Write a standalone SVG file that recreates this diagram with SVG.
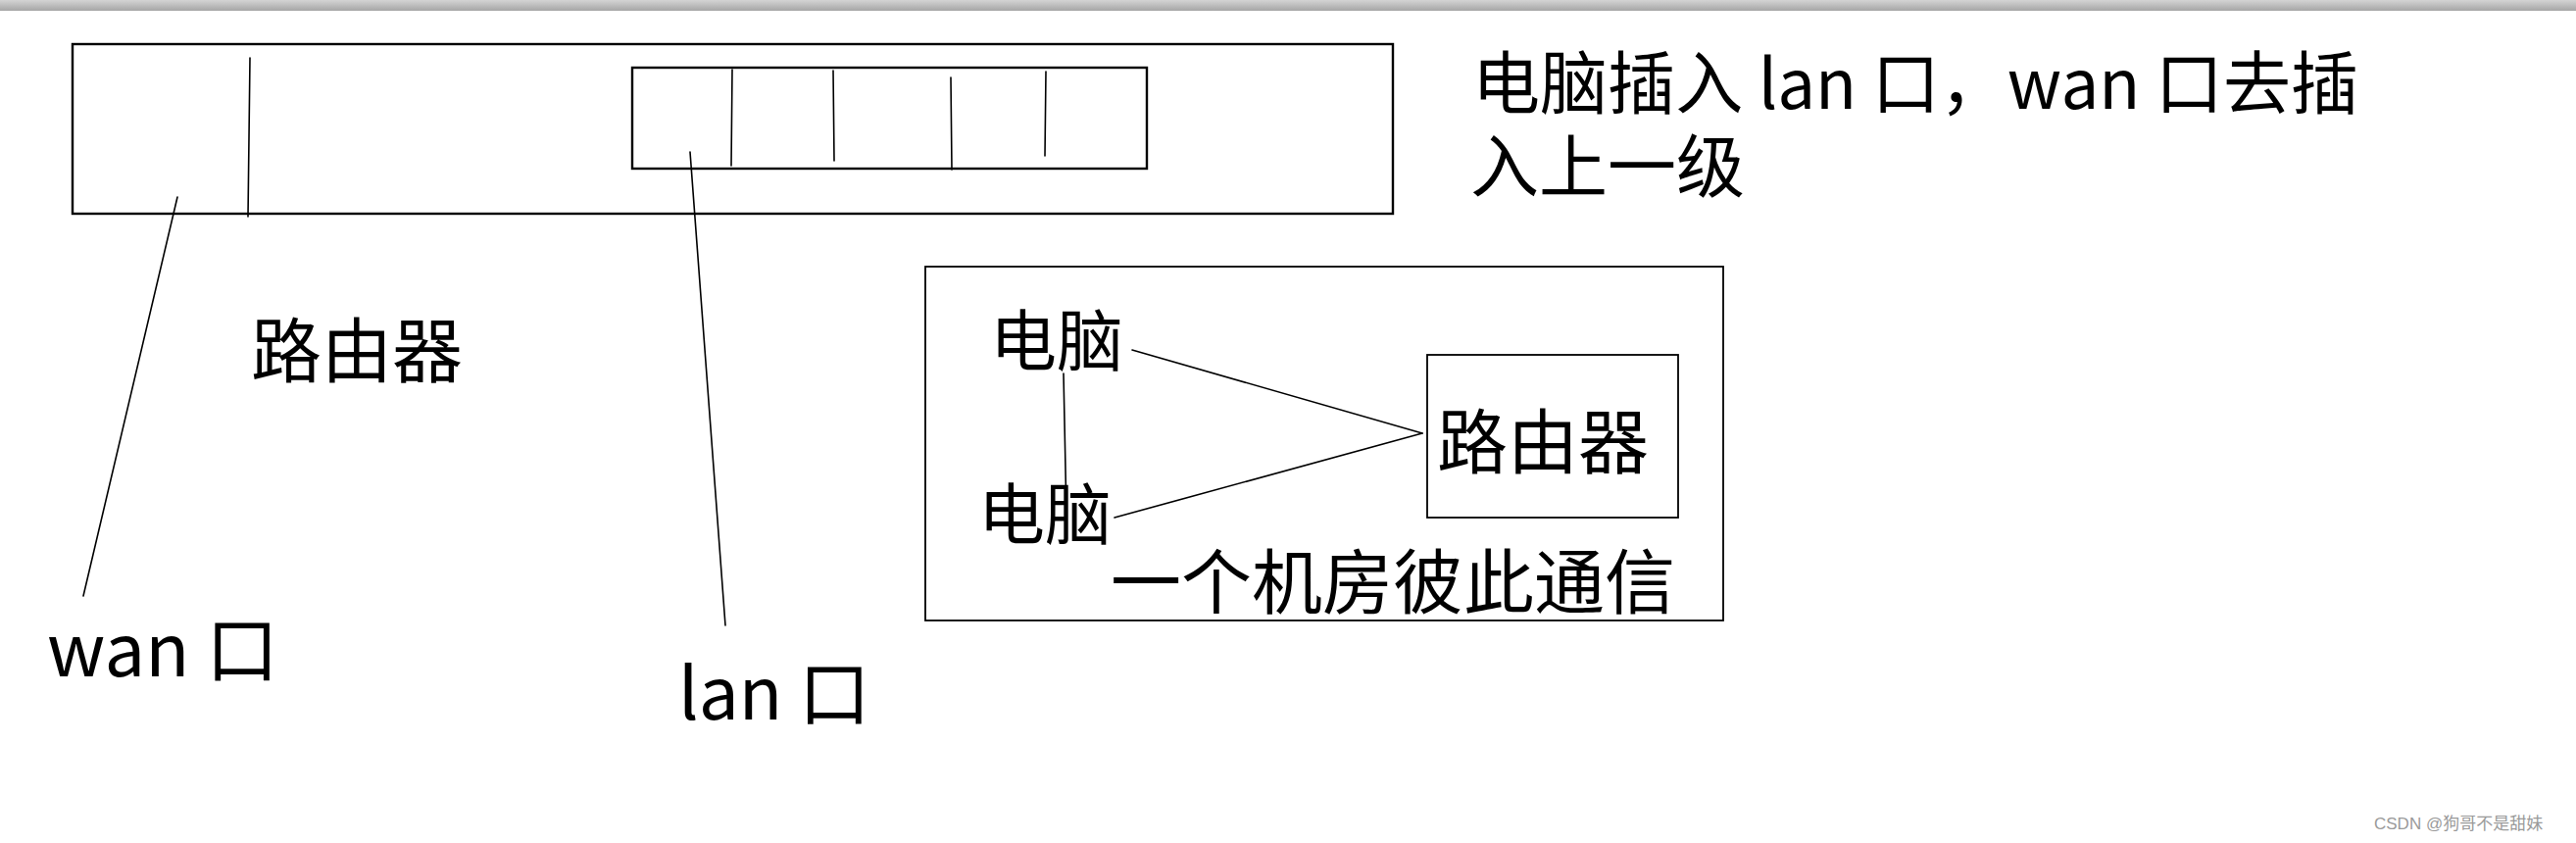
<svg xmlns="http://www.w3.org/2000/svg" width="2628" height="860" viewBox="0 0 2628 860">
<defs>
<linearGradient id="bar" x1="0" y1="0" x2="0" y2="1">
<stop offset="0" stop-color="#d4d4d4"/>
<stop offset="1" stop-color="#a6a6a6"/>
</linearGradient>
</defs>
<style>
.t{font-family:"Noto Sans CJK SC","Liberation Sans",sans-serif;fill:#000}
.box{fill:none;stroke:#000}
.ln{stroke:#000;stroke-width:1.6;fill:none;stroke-linecap:round}
.wm{font-family:"Liberation Sans","Noto Sans CJK SC",sans-serif;font-size:17px;fill:#9a9a9a}
</style>
<rect x="0" y="0" width="2628" height="860" fill="#fff"/>
<rect x="0" y="0" width="2628" height="11" fill="url(#bar)"/>

<g id="router-device">
<rect class="box" x="74" y="45" width="1347" height="173" stroke-width="2.4"/>
<rect class="box" x="645" y="69" width="525" height="103" stroke-width="2.4"/>
</g>

<g id="connectors">
<line class="ln" x1="255" y1="59" x2="253" y2="221"/>
<line class="ln" x1="747" y1="71" x2="746" y2="169"/>
<line class="ln" x1="850" y1="72" x2="851" y2="164"/>
<line class="ln" x1="970" y1="79" x2="971" y2="173"/>
<line class="ln" x1="1067" y1="73" x2="1066" y2="159"/>
<line class="ln" x1="181" y1="201" x2="85" y2="608"/>
<line class="ln" x1="704" y1="155" x2="740" y2="638"/>
<line class="ln" x1="1155" y1="357" x2="1451" y2="442"/>
<line class="ln" x1="1137" y1="528" x2="1451" y2="442"/>
<line class="ln" x1="1085" y1="381" x2="1088" y2="527"/>
</g>

<g id="label-router-left"><text class="t" x="256" y="384" font-size="72">路由器</text></g>
<g id="label-wan"><text class="t" x="48" y="690" font-size="74">wan 口</text></g>
<g id="label-lan"><text class="t" x="692" y="734" font-size="73">lan 口</text></g>

<g id="note">
<text class="t" font-size="70"><tspan x="1502" y="111" textLength="904" lengthAdjust="spacingAndGlyphs">电脑插入 lan 口，wan 口去插</tspan><tspan x="1500" y="196">入上一级</tspan></text>
</g>

<g id="room">
<rect class="box" x="944" y="272" width="814" height="361" stroke-width="1.8"/>
<g id="router-node">
<rect class="box" x="1456" y="362" width="256" height="166" stroke-width="1.8"/>
<text class="t" x="1466" y="477" font-size="72">路由器</text>
</g>
<g id="pc1"><text class="t" x="1010" y="373" font-size="68">电脑</text></g>
<g id="pc2"><text class="t" x="998" y="550" font-size="68">电脑</text></g>
<g id="room-label"><text class="t" x="1133" y="620" font-size="72">一个机房彼此通信</text></g>
</g>

<text class="wm" x="2422" y="846">CSDN @狗哥不是甜妹</text>
</svg>
